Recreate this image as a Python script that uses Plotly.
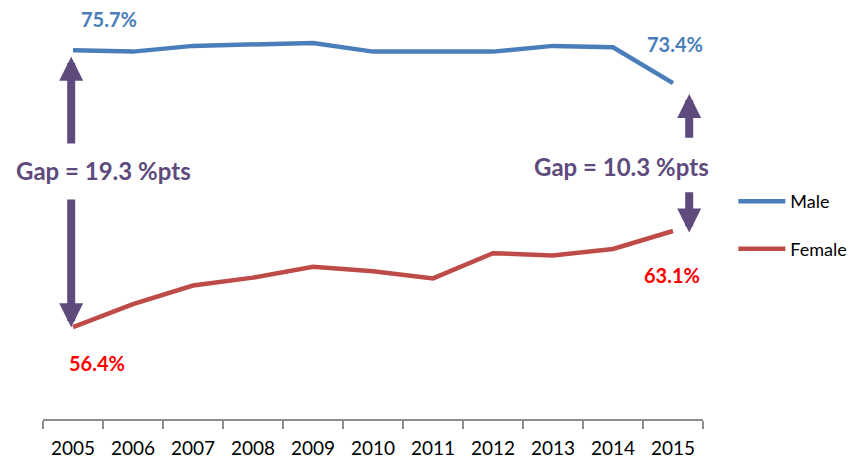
import plotly.graph_objects as go

years = ["2005", "2006", "2007", "2008", "2009", "2010", "2011", "2012", "2013", "2014", "2015"]
male = [75.7, 75.6, 76.0, 76.1, 76.2, 75.6, 75.6, 75.6, 76.0, 75.9, 73.4]
female = [56.4, 58.0, 59.3, 59.85, 60.6, 60.3, 59.8, 61.55, 61.4, 61.85, 63.1]
male_label = "75.7%"
male_end_label = "73.4%"
female_label = "56.4%"
female_end_label = "63.1%"
gap_start = "Gap = 19.3 %pts"
gap_end = "Gap = 10.3 %pts"

BLUE = "#4A7EBB"
RED = "#BE4B48"
PURPLE = "#5E4A7C"
FONT = "Lato"

fig = go.Figure()
fig.add_trace(go.Scatter(x=years, y=male, mode="lines", name="Male",
                         line=dict(color=BLUE, width=4.5), legendgroup="m"))
fig.add_trace(go.Scatter(x=years, y=female, mode="lines", name="Female",
                         line=dict(color=RED, width=4.5), legendgroup="f"))

ann = []
lab_font = dict(family=FONT, size=20, color=BLUE)
ann.append(dict(x=0, y=male[0], text="<b>" + male_label + "</b>", showarrow=False,
                xshift=36, yshift=31, font=lab_font))
ann.append(dict(x=10, y=male[-1], text="<b>" + male_end_label + "</b>", showarrow=False,
                xshift=2, yshift=39, font=lab_font))
red_font = dict(family=FONT, size=20, color="#FF0000")
ann.append(dict(x=0, y=female[0], text="<b>" + female_label + "</b>", showarrow=False,
                xshift=24, yshift=-36, font=red_font))
ann.append(dict(x=10, y=female[-1], text="<b>" + female_end_label + "</b>", showarrow=False,
                xshift=-1, yshift=-44, font=red_font))

gap_font = dict(family=FONT, size=24, color=PURPLE)
ann.append(dict(x=0, y=67.35, text="<b>" + gap_start + "</b>", showarrow=False,
                xshift=30, font=gap_font))
ann.append(dict(x=10, y=67.6, text="<b>" + gap_end + "</b>", showarrow=False,
                xshift=-52, font=gap_font))

arrow_style = dict(showarrow=True, arrowhead=2, arrowsize=0.6, arrowwidth=8,
                   arrowcolor=PURPLE, axref="x", ayref="y", text="")
# left arrows
ann.append(dict(x=-0.03, y=male[0] - 0.45, ax=-0.03, ay=69.1, **arrow_style))
ann.append(dict(x=-0.03, y=female[0], ax=-0.03, ay=65.4, **arrow_style))
# right arrows
ann.append(dict(x=10.27, y=male[-1] - 0.75, ax=10.27, ay=69.5, **arrow_style))
ann.append(dict(x=10.27, y=female[-1] - 0.1, ax=10.27, ay=65.9, **arrow_style))

fig.update_layout(
    width=864, height=471,
    margin=dict(l=43, r=161, t=10, b=52, autoexpand=False),
    paper_bgcolor="white", plot_bgcolor="white",
    font=dict(family=FONT, color="black"),
    showlegend=True,
    legend=dict(x=1.046, y=0.474, xanchor="left", yanchor="middle",
                font=dict(family=FONT, size=18, color="black"),
                tracegroupgap=21, itemwidth=47),
    annotations=ann,
    xaxis=dict(type="category", tickson="boundaries", range=[-0.5, 10.5],
               showline=True, linecolor="#8C8C8C", linewidth=2,
               ticks="outside", ticklen=8, tickcolor="#8C8C8C", tickwidth=2,
               ticklabelstandoff=11,
               showgrid=False, zeroline=False, automargin=False,
               tickfont=dict(family=FONT, size=19, color="black")),
    yaxis=dict(range=[50, 78.5], visible=False, showgrid=False, zeroline=False,
               automargin=False),
)

fig.write_html("out.html", config={"displayModeBar": False},
               post_script="document.body.style.margin='0';document.body.style.padding='0';")
